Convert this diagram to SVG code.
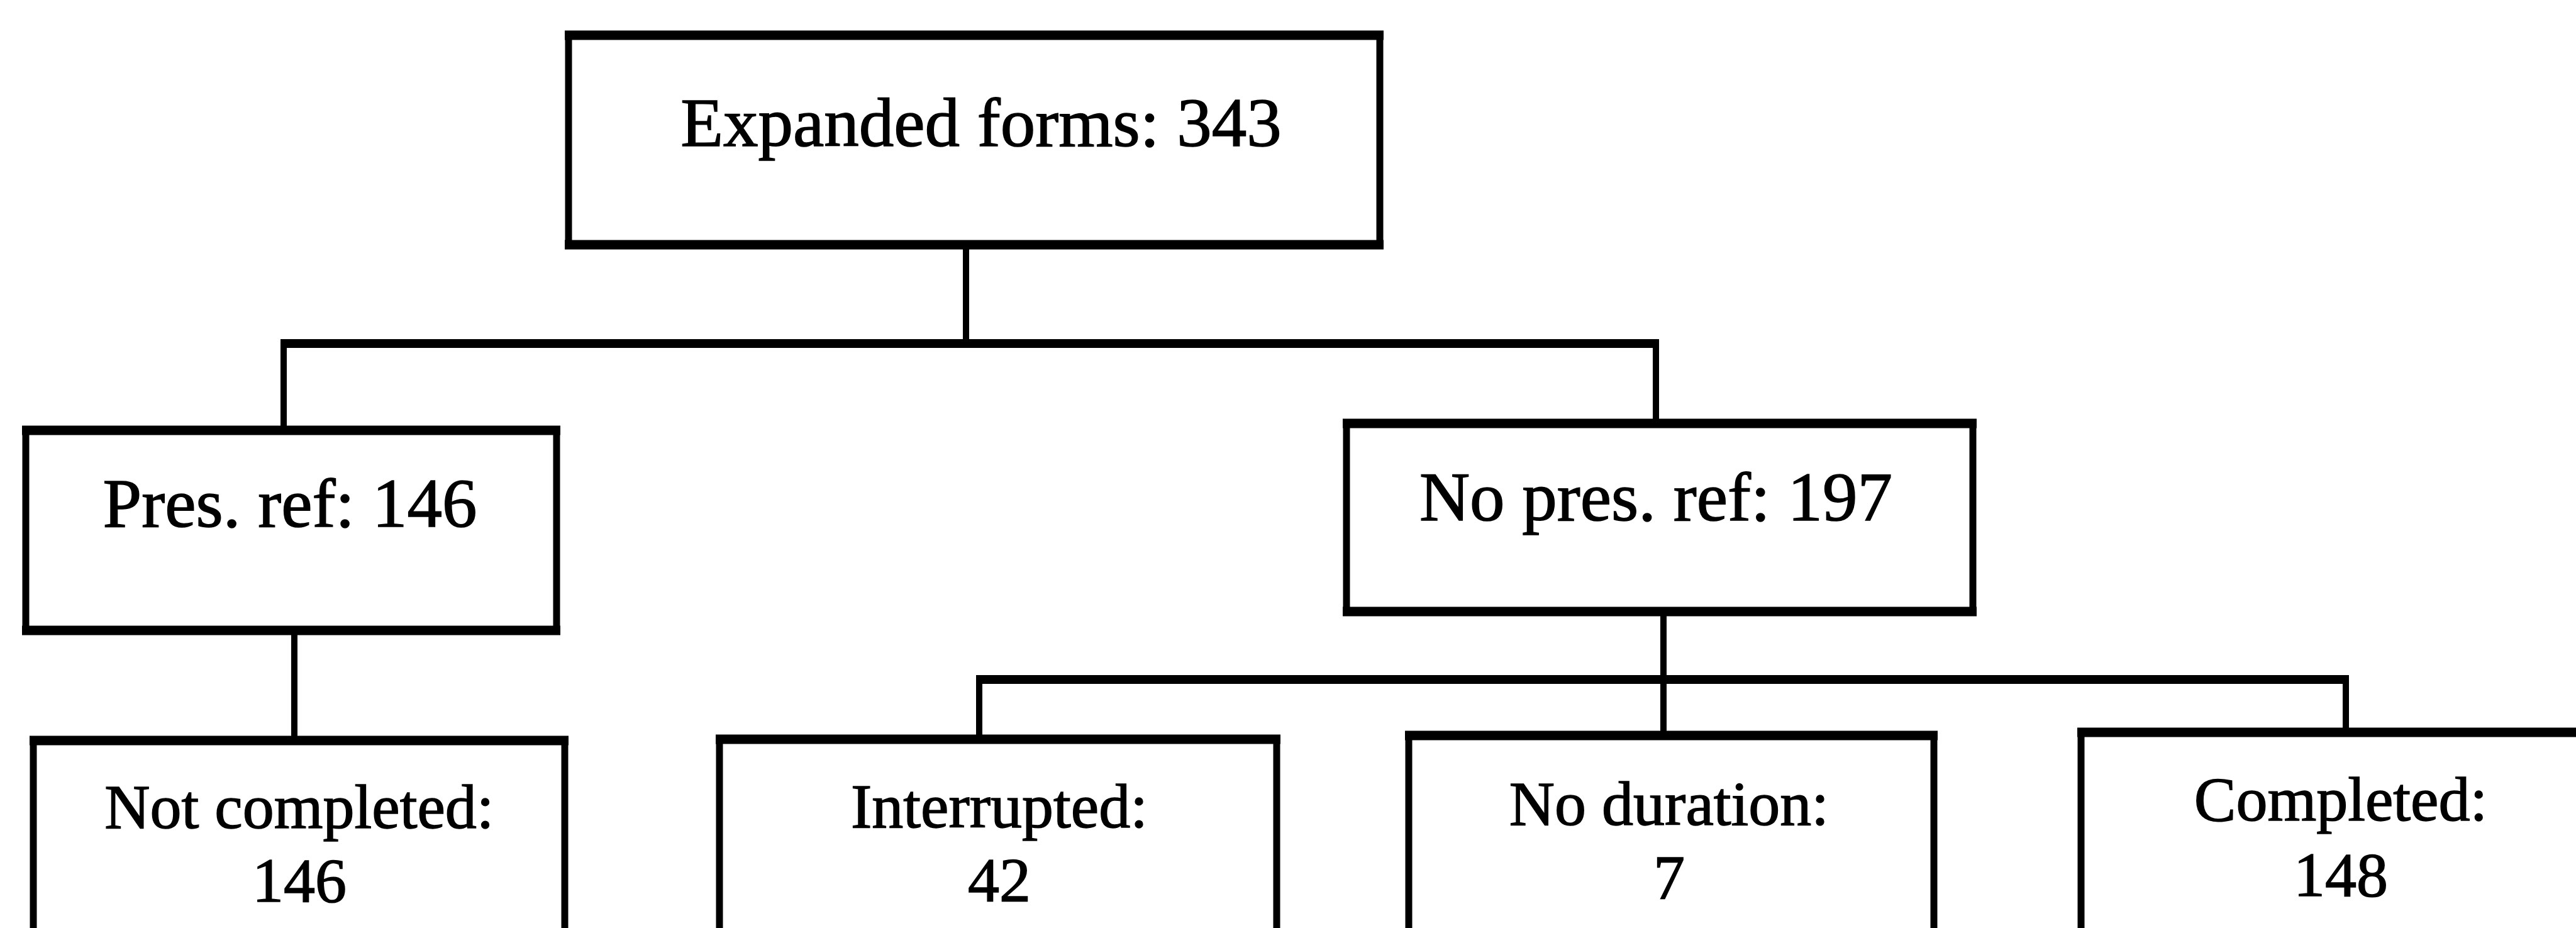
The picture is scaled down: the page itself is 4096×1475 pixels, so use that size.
<svg xmlns="http://www.w3.org/2000/svg" width="4096" height="1475" viewBox="0 0 4096 1475">
<style>
.box{fill:#fff;stroke:#000;stroke-width:11}
.edge{stroke:#000;stroke-width:15;fill:none}
.h{stroke:#000;stroke-width:14;fill:none}
.v{stroke:#000;stroke-width:10;fill:none}
.t1{font-family:"Liberation Serif","Times New Roman",serif;font-size:111px;fill:#000;stroke:#000;stroke-width:1.5;text-anchor:middle}
.t2{font-family:"Liberation Serif","Times New Roman",serif;font-size:100px;fill:#000;stroke:#000;stroke-width:1.5;text-anchor:middle}
</style>
<rect width="4096" height="1475" fill="#fff"/>
<g id="connectors">
<line class="v" x1="1536" y1="389" x2="1536" y2="546"/>
<line class="h" x1="446" y1="546" x2="2638" y2="546"/>
<line class="v" x1="451" y1="546" x2="451" y2="684"/>
<line class="v" x1="2633" y1="546" x2="2633" y2="673"/>
<line class="v" x1="468" y1="1002" x2="468" y2="1177"/>
<line class="v" x1="2645" y1="972" x2="2645" y2="1169"/>
<line class="h" x1="1552" y1="1080" x2="3735" y2="1080"/>
<line class="v" x1="1557" y1="1080" x2="1557" y2="1175"/>
<line class="v" x1="3730" y1="1080" x2="3730" y2="1164"/>
</g>
<g id="n_expanded">
<rect class="box" x="904" y="56" width="1290" height="333"/>
<path class="edge" d="M898 56H2200M898 389H2200"/>
<text class="t1" x="1560" y="232">Expanded forms: 343</text>
</g>
<g id="n_presref">
<rect class="box" x="41" y="684" width="844" height="318"/>
<path class="edge" d="M35 684H891M35 1002H891"/>
<text class="t1" x="461" y="837">Pres. ref: 146</text>
</g>
<g id="n_nopresref">
<rect class="box" x="2141" y="673" width="996" height="299"/>
<path class="edge" d="M2135 673H3143M2135 972H3143"/>
<text class="t1" x="2633" y="827">No pres. ref: 197</text>
</g>
<g id="n_notcompleted">
<rect class="box" x="53" y="1177" width="845" height="420"/>
<path class="edge" d="M47 1177H904"/>
<text class="t2" x="476" y="1316">Not completed:</text>
<text class="t2" x="476" y="1433">146</text>
</g>
<g id="n_interrupted">
<rect class="box" x="1144" y="1175" width="886" height="420"/>
<path class="edge" d="M1138 1175H2036"/>
<text class="t2" x="1589" y="1315">Interrupted:</text>
<text class="t2" x="1589" y="1432">42</text>
</g>
<g id="n_noduration">
<rect class="box" x="2240" y="1169" width="835" height="420"/>
<path class="edge" d="M2234 1169H3081"/>
<text class="t2" x="2654" y="1311">No duration:</text>
<text class="t2" x="2654" y="1428">7</text>
</g>
<g id="n_completed">
<rect class="box" x="3309" y="1164" width="836" height="420"/>
<path class="edge" d="M3303 1164H4151"/>
<text class="t2" x="3722" y="1304">Completed:</text>
<text class="t2" x="3722" y="1424">148</text>
</g>
</svg>
